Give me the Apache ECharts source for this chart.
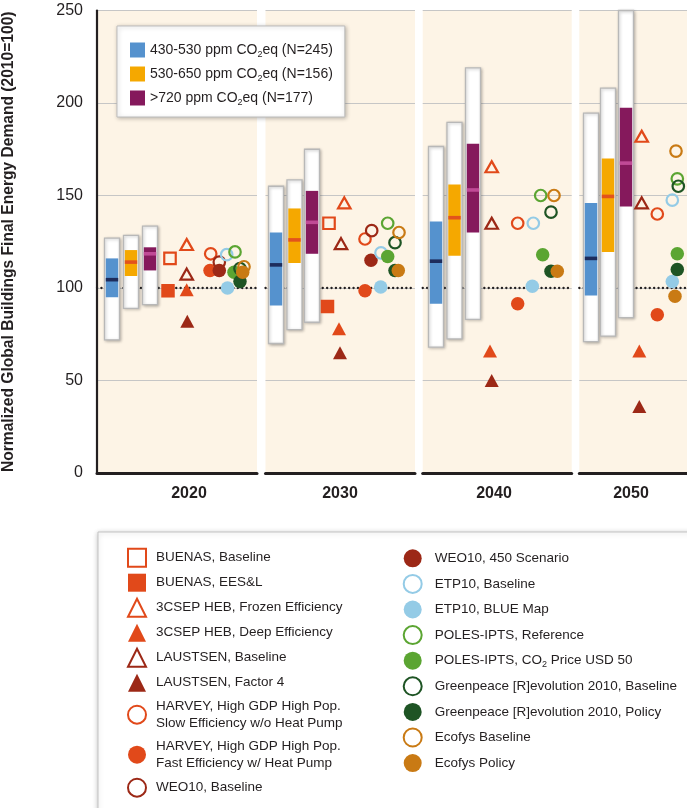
<!DOCTYPE html>
<html>
<head>
<meta charset="utf-8">
<script src="https://cdn.jsdelivr.net/npm/echarts@6/dist/echarts.min.js"></script>
<style>
html, body { margin: 0; padding: 0; background: #fff; }
#main { width: 687px; height: 808px; }
</style>
</head>
<body>
<div id="main"></div>
<script>
// ---- data (normalized, 2010 = 100) ----
var years = ['2020', '2030', '2040', '2050'];
var yTicks = [0, 50, 100, 150, 200, 250];
var baseline = 100;

// scenario ranges: min / 25th / median / 75th / max
var lowMin = [72, 70, 68, 71];
var lowQ1 = [95, 90.5, 91.5, 96];
var lowMed = [104.5, 112.5, 114.5, 116];
var lowQ3 = [116, 130, 136, 146];
var lowMax = [127, 155, 176.5, 194.5];

var midMin = [89, 77.5, 72.5, 74];
var midQ1 = [106.5, 113.5, 117.5, 119.5];
var midMed = [114, 126, 138, 149.5];
var midQ3 = [120.5, 143, 156, 170];
var midMax = [128.5, 158.5, 189.5, 208];

var highMin = [91, 81.5, 83, 84];
var highQ1 = [109.5, 118.5, 130, 144];
var highMed = [118.5, 135.5, 153, 167.5];
var highQ3 = [122, 152.5, 178, 197.5];
var highMax = [133.5, 175, 219, 250];

// individual studies
var buenasBase = [116, 135, null, null];
var buenasEes = [98.5, 90, null, null];
var csepFrozen = [123.5, 146, 165.5, 182];
var csepDeep = [99, 78, 66, 66];
var laustBase = [107.5, 124, 135, 146];
var laustF4 = [82, 65, 50, 36];
var harveySlow = [118.5, 126.5, 135, 140];
var harveyFast = [109.5, 98.5, 91.5, 85.5];
var weoBase = [114, 131, null, null];
var weo450 = [109.5, 115, null, null];
var etpBase = [118, 119, 135, 147.5];
var etpBlue = [100, 100.5, 101, 103.5];
var polesRef = [119.5, 135, 150, 159];
var polesCo2 = [108.5, 117, 118, 118.5];
var gpBase = [110.5, 124.5, 141, 155];
var gpPolicy = [103.5, 109.5, 109, 110];
var ecoBase = [111.5, 130, 150, 174];
var ecoPolicy = [108.5, 109.5, 109, 95.5];

// ---- layout ----
var panelLeft = [97, 265.5, 422.7, 579.3];
var panelWidth = [160, 149.5, 149, 150];
var yearLabelAt = [92, 74.5, 71.3, 51.7];
var boxAt = [[15, 34, 53], [10.5, 29, 46.5], [13.3, 31.8, 50.3], [11.7, 28.7, 46.7]];

var SANS = '"Liberation Sans", Arial, sans-serif';
var INK = '#231f20';

var C_ORANGE = '#e1491a', C_RED = '#9c2816', C_LBLUE = '#94cbe6',
    C_GREEN = '#5ba532', C_DGREEN = '#1e5424', C_ECO = '#c97a14';

var groups = [
  {name: '430-530 ppm CO2eq (N=245)', color: '#5592ce', med: '#1d2c5c',
   min: lowMin, q1: lowQ1, mid: lowMed, q3: lowQ3, max: lowMax},
  {name: '530-650 ppm CO2eq (N=156)', color: '#f5a800', med: '#e2531c',
   min: midMin, q1: midQ1, mid: midMed, q3: midQ3, max: midMax},
  {name: '>720 ppm CO2eq (N=177)', color: '#85195c', med: '#c04a96',
   min: highMin, q1: highQ1, mid: highMed, q3: highQ3, max: highMax}
];

var studies = [
  {name: 'BUENAS, Baseline', v: buenasBase, at: [73, 63.5, 0, 0], shape: 'rect', c: C_ORANGE, open: true},
  {name: 'BUENAS, EES&L', v: buenasEes, at: [71, 62, 0, 0], shape: 'rect', c: C_ORANGE},
  {name: '3CSEP HEB, Frozen Efficiency', v: csepFrozen, at: [89.7, 78.8, 69, 62.4], shape: 'triangle', c: C_ORANGE, open: true},
  {name: '3CSEP HEB, Deep Efficiency', v: csepDeep, at: [89.7, 73.5, 67.3, 60], shape: 'triangle', c: C_ORANGE},
  {name: 'LAUSTSEN, Baseline', v: laustBase, at: [89.7, 75.5, 69, 62.4], shape: 'triangle', c: C_RED, open: true},
  {name: 'LAUSTSEN, Factor 4', v: laustF4, at: [90.3, 74.5, 69, 60], shape: 'triangle', c: C_RED},
  {name: 'HARVEY slow', v: harveySlow, at: [113.7, 99.5, 95, 78], shape: 'circle', c: C_ORANGE, open: true},
  {name: 'HARVEY fast', v: harveyFast, at: [113, 99.5, 95, 78], shape: 'circle', c: C_ORANGE},
  {name: 'WEO10, Baseline', v: weoBase, at: [122.3, 106.2, 0, 0], shape: 'circle', c: C_RED, open: true},
  {name: 'WEO10, 450 Scenario', v: weo450, at: [122.3, 105.5, 0, 0], shape: 'circle', c: C_RED},
  {name: 'ETP10, Baseline', v: etpBase, at: [129.7, 115.5, 110.6, 93], shape: 'circle', c: C_LBLUE, open: true},
  {name: 'ETP10, BLUE Map', v: etpBlue, at: [130.5, 115.2, 109.6, 93], shape: 'circle', c: C_LBLUE},
  {name: 'POLES-IPTS, Reference', v: polesRef, at: [138, 122.2, 118, 98], shape: 'circle', c: C_GREEN, open: true},
  {name: 'POLES-IPTS, CO2 Price USD 50', v: polesCo2, at: [137, 122.2, 120, 98], shape: 'circle', c: C_GREEN},
  {name: 'Greenpeace [R]evolution 2010, Baseline', v: gpBase, at: [143, 129.5, 128.3, 99], shape: 'circle', c: C_DGREEN, open: true},
  {name: 'Greenpeace [R]evolution 2010, Policy', v: gpPolicy, at: [143, 129.5, 128.3, 98], shape: 'circle', c: C_DGREEN},
  {name: 'Ecofys Baseline', v: ecoBase, at: [147, 133.5, 131.3, 96.7], shape: 'circle', c: C_ECO, open: true},
  {name: 'Ecofys Policy', v: ecoPolicy, at: [145.7, 132.8, 134.6, 95.7], shape: 'circle', c: C_ECO}
];

var displayName = {
  'HARVEY slow': 'HARVEY, High GDP High Pop.\nSlow Efficiency w/o Heat Pump',
  'HARVEY fast': 'HARVEY, High GDP High Pop.\nFast Efficiency w/ Heat Pump'
};

function legendText(name) {
  var t = displayName[name] || name;
  return t.replace('CO2', 'CO{sub|2}');
}

function markerSize(shape, open) {
  if (shape === 'triangle') return open ? [12.5, 11] : [14, 13];
  return open ? 11.5 : 13.5;
}

function boxRender(color, medColor) {
  return function (params, api) {
    var x = api.value(0);
    var lo = api.coord([x, api.value(1)]);
    var q1 = api.coord([x, api.value(2)]);
    var md = api.coord([x, api.value(3)]);
    var q3 = api.coord([x, api.value(4)]);
    var hi = api.coord([x, api.value(5)]);
    var w = 15, pad = 1.3;
    return {
      type: 'group',
      children: [
        {type: 'rect', shape: {x: hi[0] - w / 2, y: hi[1], width: w, height: lo[1] - hi[1]},
         style: {fill: '#fff', stroke: '#b8b8b8', lineWidth: 1.3, shadowBlur: 3,
                 shadowColor: 'rgba(0,0,0,0.25)', shadowOffsetX: 1, shadowOffsetY: 1}},
        {type: 'rect', shape: {x: hi[0] - w / 2 + pad, y: q3[1], width: w - 2 * pad, height: q1[1] - q3[1]},
         style: {fill: color}},
        {type: 'rect', shape: {x: hi[0] - w / 2 + pad, y: md[1] - 1.8, width: w - 2 * pad, height: 3.6},
         style: {fill: medColor}}
      ]
    };
  };
}

function refRender(params, api) {
  var y = api.coord([0, api.value(0)])[1];
  var cs = params.coordSys;
  return {
    type: 'line',
    shape: {x1: cs.x, y1: y, x2: cs.x + cs.width, y2: y},
    style: {stroke: '#231f20', lineWidth: 2.3, lineDash: [0.1, 4.3], lineCap: 'round'}
  };
}

function yearFormatter(g) {
  return function () { return years[g]; };
}

var grids = [], xAxes = [], yAxes = [], series = [];

for (var g = 0; g < years.length; g++) {
  grids.push({
    left: panelLeft[g], top: 10.5, width: panelWidth[g], height: 462.5,
    show: true, backgroundColor: '#fdf4e6', borderWidth: 0, outerBoundsMode: 'none'
  });
  xAxes.push({
    gridIndex: g, type: 'value', min: 0, max: panelWidth[g],
    axisLine: {show: true, onZero: false, lineStyle: {color: INK, width: 3}},
    axisTick: {show: false},
    splitLine: {show: false},
    axisLabel: {
      customValues: [yearLabelAt[g]], formatter: yearFormatter(g),
      fontFamily: SANS, fontSize: 16, fontWeight: 'bold', color: INK, margin: 13
    }
  });
  yAxes.push({
    gridIndex: g, type: 'value',
    min: yTicks[0], max: yTicks[yTicks.length - 1], interval: yTicks[1] - yTicks[0],
    axisLine: {show: g === 0, lineStyle: {color: INK, width: 2.2}},
    axisTick: {show: false},
    axisLabel: {show: g === 0, fontFamily: SANS, fontSize: 16, color: INK, margin: 14},
    splitLine: {show: true, lineStyle: {color: '#c6c6c6', width: 1.2}},
    name: g === 0 ? 'Normalized Global Buildings Final Energy Demand (2010=100)' : '',
    nameLocation: 'middle', nameRotate: 90, nameGap: 80,
    nameTextStyle: {fontFamily: SANS, fontWeight: 'bold', fontSize: 15.6, color: INK}
  });

  series.push({
    type: 'custom', xAxisIndex: g, yAxisIndex: g, silent: true, z: 2,
    renderItem: refRender, data: [[baseline]], encode: {y: 0}
  });

  groups.forEach(function (grp, k) {
    series.push({
      type: 'custom', name: grp.name, xAxisIndex: g, yAxisIndex: g, silent: true, z: 3,
      itemStyle: {color: grp.color},
      renderItem: boxRender(grp.color, grp.med),
      encode: {x: 0, y: [1, 2, 3, 4, 5]},
      data: [[boxAt[g][k], grp.min[g], grp.q1[g], grp.mid[g], grp.q3[g], grp.max[g]]]
    });
  });

  studies.forEach(function (s) {
    if (s.v[g] == null) return;
    series.push({
      type: 'scatter', name: s.name, xAxisIndex: g, yAxisIndex: g, silent: true, z: 4,
      symbol: s.shape, symbolSize: markerSize(s.shape, s.open),
      itemStyle: s.open
        ? {color: 'rgba(0,0,0,0)', borderColor: s.c, borderWidth: 2.2, opacity: 1}
        : {color: s.c, borderWidth: 0, opacity: 1},
      data: [[s.at[g], s.v[g]]]
    });
  });
}

var richSub = {
  sub: {fontFamily: SANS, fontSize: 9, lineHeight: 10, verticalAlign: 'bottom', color: INK}
};

var leftNames = studies.slice(0, 9).map(function (s) { return s.name; });
var rightNames = studies.slice(9).map(function (s) { return s.name; });

var option = {
  animation: false,
  backgroundColor: '#fff',
  grid: grids,
  xAxis: xAxes,
  yAxis: yAxes,
  graphic: [{
    type: 'rect', silent: true, z: 0,
    shape: {x: 98, y: 532, width: 640, height: 320},
    style: {fill: '#fff', stroke: '#c4c4c4', lineWidth: 1, shadowBlur: 5,
            shadowColor: 'rgba(0,0,0,0.22)', shadowOffsetX: 0, shadowOffsetY: 1}
  }],
  legend: [
    {
      data: groups.map(function (g) { return g.name; }),
      orient: 'vertical', left: 117, top: 26, icon: 'rect',
      itemWidth: 15, itemHeight: 15, itemGap: 6, selectedMode: false,
      padding: [15, 12, 10, 13],
      backgroundColor: '#fff', borderColor: '#bdbdbd', borderWidth: 1,
      shadowBlur: 4, shadowColor: 'rgba(0,0,0,0.25)', shadowOffsetX: 1, shadowOffsetY: 1,
      formatter: legendText,
      textStyle: {fontFamily: SANS, fontSize: 14, lineHeight: 18, color: INK, rich: richSub}
    },
    {
      data: leftNames, orient: 'vertical', left: 127, top: 547.7,
      itemWidth: 18, itemHeight: 18, itemGap: 6, selectedMode: false, padding: 0,
      formatter: legendText,
      textStyle: {fontFamily: SANS, fontSize: 13.5, lineHeight: 17, color: INK,
                  padding: [0, 0, 0, 5], rich: richSub}
    },
    {
      data: rightNames, orient: 'vertical', left: 402.7, top: 549.3,
      itemWidth: 18, itemHeight: 18, itemGap: 6.6, selectedMode: false, padding: 0,
      formatter: legendText,
      textStyle: {fontFamily: SANS, fontSize: 13.5, lineHeight: 17, color: INK,
                  padding: [0, 0, 0, 8], rich: richSub}
    }
  ],
  series: series
};

var chart = echarts.init(document.getElementById('main'));
chart.setOption(option);
</script>
</body>
</html>
